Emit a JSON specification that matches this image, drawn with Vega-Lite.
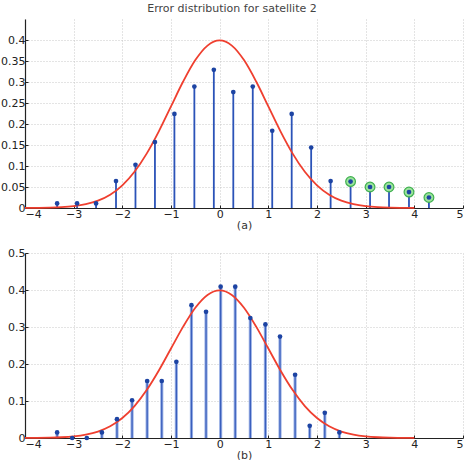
{
  "$schema": "https://vega.github.io/schema/vega-lite/v6.json",
  "padding": {"left": 0, "top": 3, "right": 0, "bottom": 0},
  "background": "white",
  "bounds": "flush",
  "spacing": 45,
  "title": {"text": "Error distribution for satellite 2", "fontSize": 11, "font": "DejaVu Sans", "fontWeight": "normal", "color": "#444", "offset": 5, "anchor": "middle"},
  "config": {
    "view": {"stroke": null},
    "axis": {
      "labelFont": "DejaVu Sans", "labelFontSize": 11, "labelColor": "#222", "labelOverlap": false,
      "titleFont": "DejaVu Sans", "titleFontSize": 11, "titleFontWeight": "normal", "titleColor": "#333",
      "domainColor": "#222", "domainWidth": 1.2,
      "tickColor": "#222", "tickSize": -3, "labelPadding": 3,
      "gridColor": "#bbb", "gridDash": [1, 2], "gridWidth": 0.8
    }
  },
  "datasets": {
    "curve": [
      {"x": -4, "y": 0.0001}, {"x": -3.75, "y": 0.0004}, {"x": -3.5, "y": 0.0009}, {"x": -3.25, "y": 0.002},
      {"x": -3, "y": 0.0044}, {"x": -2.75, "y": 0.0091}, {"x": -2.5, "y": 0.0175}, {"x": -2.25, "y": 0.0317},
      {"x": -2, "y": 0.054}, {"x": -1.75, "y": 0.0863}, {"x": -1.5, "y": 0.1295}, {"x": -1.25, "y": 0.1826},
      {"x": -1, "y": 0.242}, {"x": -0.75, "y": 0.3011}, {"x": -0.5, "y": 0.3521}, {"x": -0.25, "y": 0.3867},
      {"x": 0, "y": 0.3989}, {"x": 0.25, "y": 0.3867}, {"x": 0.5, "y": 0.3521}, {"x": 0.75, "y": 0.3011},
      {"x": 1, "y": 0.242}, {"x": 1.25, "y": 0.1826}, {"x": 1.5, "y": 0.1295}, {"x": 1.75, "y": 0.0863},
      {"x": 2, "y": 0.054}, {"x": 2.25, "y": 0.0317}, {"x": 2.5, "y": 0.0175}, {"x": 2.75, "y": 0.0091},
      {"x": 3, "y": 0.0044}, {"x": 3.25, "y": 0.002}, {"x": 3.5, "y": 0.0009}, {"x": 3.75, "y": 0.0004},
      {"x": 4, "y": 0.0001}
    ],
    "a": [
      {"x": -3.34, "y": 0.011, "flag": false}, {"x": -2.93, "y": 0.011, "flag": false}, {"x": -2.54, "y": 0.011, "flag": false},
      {"x": -2.13, "y": 0.064, "flag": false}, {"x": -1.73, "y": 0.103, "flag": false}, {"x": -1.33, "y": 0.157, "flag": false},
      {"x": -0.93, "y": 0.224, "flag": false}, {"x": -0.52, "y": 0.289, "flag": false}, {"x": -0.12, "y": 0.329, "flag": false},
      {"x": 0.28, "y": 0.276, "flag": false}, {"x": 0.68, "y": 0.289, "flag": false}, {"x": 1.08, "y": 0.184, "flag": false},
      {"x": 1.48, "y": 0.224, "flag": false}, {"x": 1.88, "y": 0.144, "flag": false}, {"x": 2.28, "y": 0.064, "flag": false},
      {"x": 2.69, "y": 0.063, "flag": true}, {"x": 3.09, "y": 0.05, "flag": true}, {"x": 3.48, "y": 0.05, "flag": true},
      {"x": 3.89, "y": 0.038, "flag": true}, {"x": 4.3, "y": 0.025, "flag": true}
    ],
    "b": [
      {"x": -3.34, "y": 0.015}, {"x": -3.03, "y": 0.0}, {"x": -2.73, "y": 0.0}, {"x": -2.42, "y": 0.015},
      {"x": -2.11, "y": 0.051}, {"x": -1.8, "y": 0.102}, {"x": -1.49, "y": 0.154}, {"x": -1.19, "y": 0.154},
      {"x": -0.89, "y": 0.206}, {"x": -0.58, "y": 0.359}, {"x": -0.28, "y": 0.341}, {"x": 0.02, "y": 0.409},
      {"x": 0.32, "y": 0.409}, {"x": 0.63, "y": 0.324}, {"x": 0.94, "y": 0.307}, {"x": 1.24, "y": 0.274},
      {"x": 1.55, "y": 0.171}, {"x": 1.85, "y": 0.033}, {"x": 2.16, "y": 0.068}, {"x": 2.46, "y": 0.015}
    ]
  },
  "vconcat": [
    {
      "width": 438, "height": 189,
      "encoding": {
        "x": {"field": "x", "type": "quantitative", "scale": {"domain": [-4, 5], "nice": false},
              "axis": {"values": [-4, -3, -2, -1, 0, 1, 2, 3, 4, 5], "format": "~g", "title": "(a)", "grid": true, "titlePadding": 0}},
        "y": {"field": "y", "type": "quantitative", "scale": {"domain": [0, 0.45], "nice": false},
              "axis": {"values": [0, 0.05, 0.1, 0.15, 0.2, 0.25, 0.3, 0.35, 0.4], "format": "~g", "title": null, "grid": true}}
      },
      "layer": [
        {
          "data": {"name": "a"},
          "mark": {"type": "rule", "color": "#2b53b8", "strokeWidth": 1.8},
          "encoding": {"y2": {"datum": 0}}
        },
        {
          "data": {"name": "curve"},
          "mark": {"type": "line", "color": "#ef3f2f", "strokeWidth": 1.8, "interpolate": "monotone"},
          "encoding": {}
        },
        {
          "data": {"name": "a"},
          "transform": [{"filter": "datum.flag"}],
          "mark": {"type": "point", "filled": true, "shape": "circle", "size": 95, "color": "#9be39b", "stroke": "#3fb04f", "strokeWidth": 1.2, "opacity": 1}
        },
        {
          "data": {"name": "a"},
          "mark": {"type": "point", "filled": true, "shape": "circle", "size": 22, "color": "#1d44a3", "opacity": 1}
        }
      ]
    },
    {
      "width": 438, "height": 185,
      "encoding": {
        "x": {"field": "x", "type": "quantitative", "scale": {"domain": [-4, 5], "nice": false},
              "axis": {"values": [-4, -3, -2, -1, 0, 1, 2, 3, 4, 5], "format": "~g", "title": "(b)", "grid": true, "titlePadding": 0}},
        "y": {"field": "y", "type": "quantitative", "scale": {"domain": [0, 0.5], "nice": false},
              "axis": {"values": [0, 0.1, 0.2, 0.3, 0.4, 0.5], "format": "~g", "title": null, "grid": true}}
      },
      "layer": [
        {
          "data": {"name": "b"},
          "mark": {"type": "rule", "color": "#9db3e6", "strokeWidth": 3.2},
          "encoding": {"y2": {"datum": 0}}
        },
        {
          "data": {"name": "b"},
          "mark": {"type": "rule", "color": "#3a5fbd", "strokeWidth": 1.3},
          "encoding": {"y2": {"datum": 0}}
        },
        {
          "data": {"name": "curve"},
          "mark": {"type": "line", "color": "#ef3f2f", "strokeWidth": 1.8, "interpolate": "monotone"},
          "encoding": {}
        },
        {
          "data": {"name": "b"},
          "mark": {"type": "point", "filled": true, "shape": "circle", "size": 22, "color": "#1d44a3", "opacity": 1}
        }
      ]
    }
  ]
}
